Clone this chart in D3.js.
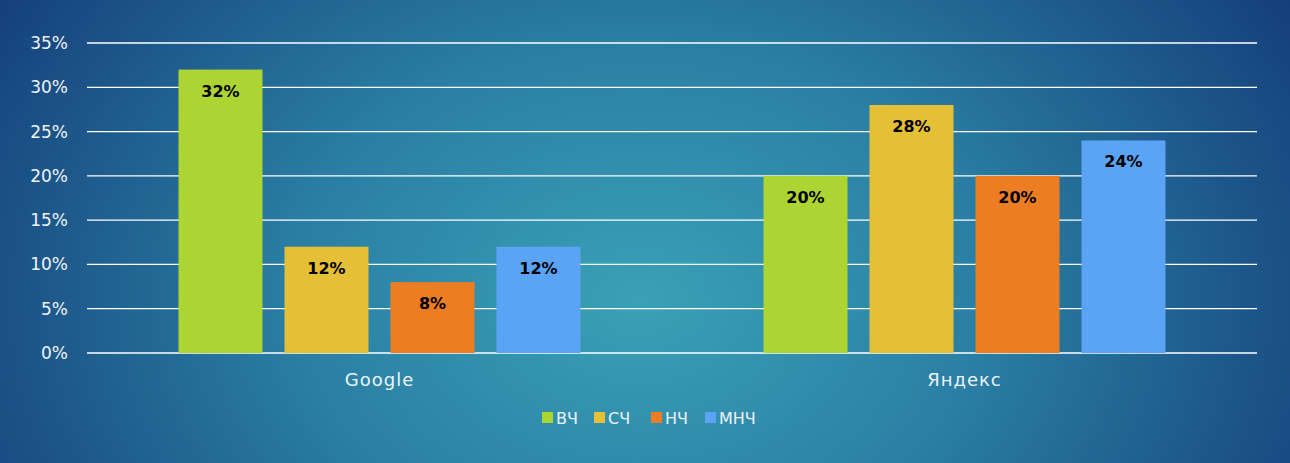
<!DOCTYPE html>
<html><head><meta charset="utf-8">
<script src="https://cdn.jsdelivr.net/npm/d3@7"></script>
<style>html,body{margin:0;padding:0;overflow:hidden;background:#1d4f86}</style>
</head><body>
<svg id="c" width="1290" height="463"></svg>
<script>
const categories = ["Google", "Яндекс"];
const series = ["ВЧ", "СЧ", "НЧ", "МНЧ"];
const valuesGoogle = [32, 12, 8, 12];
const valuesYandex = [20, 28, 20, 24];
const yTicks = [0, 5, 10, 15, 20, 25, 30, 35];
const colors = ["#acd433", "#e5bf35", "#ed7d23", "#5ba3f5"];

const values = [valuesGoogle, valuesYandex];
const W = 1290, H = 463;
const svg = d3.select("#c");
const defs = svg.append("defs");
const g = defs.append("radialGradient").attr("id","bg")
  .attr("gradientUnits","userSpaceOnUse").attr("cx",640).attr("cy",300).attr("r",760)
  .attr("gradientTransform","translate(640,300) scale(1,0.75) translate(-640,-300)");
g.append("stop").attr("offset","0").attr("stop-color","#3aa1b6");
g.append("stop").attr("offset","0.45").attr("stop-color","#2a7fa4");
g.append("stop").attr("offset","1").attr("stop-color","#153f7a");
svg.append("rect").attr("width",W).attr("height",H).attr("fill","url(#bg)");

const font = "'DejaVu Sans', sans-serif";
const x0 = d3.scaleBand().domain(categories).range([87,1257]).padding(0);
const x1 = d3.scaleBand().domain(series).range([91.5,493.5]).paddingInner(0.2075).paddingOuter(0);
const y = d3.scaleLinear().domain([0,35]).range([353,43]);

svg.append("g").selectAll("line").data(yTicks).join("line")
  .attr("x1",87).attr("x2",1257).attr("y1",d=>y(d)).attr("y2",d=>y(d))
  .attr("stroke","#ffffff").attr("stroke-width",1.3);

svg.append("g").selectAll("text").data(yTicks).join("text")
  .attr("x",68).attr("y",d=>y(d)+6).attr("text-anchor","end")
  .attr("font-family",font).attr("font-size",17).attr("fill","#eef3f8")
  .text(d=>d+"%");

categories.forEach((c,ci)=>{
  const grp = svg.append("g").attr("transform",`translate(${x0(c)},0)`);
  grp.selectAll("rect").data(values[ci]).join("rect")
    .attr("x",(d,i)=>x1(series[i])).attr("width",x1.bandwidth())
    .attr("y",d=>y(d)).attr("height",d=>y(0)-y(d))
    .attr("fill",(d,i)=>colors[i]);
  grp.selectAll("text.lbl").data(values[ci]).join("text").attr("class","lbl")
    .attr("x",(d,i)=>x1(series[i])+x1.bandwidth()/2).attr("y",d=>y(d)+27)
    .attr("text-anchor","middle").attr("font-family",font).attr("font-weight","bold")
    .attr("font-size",16).attr("fill","#000").text(d=>d+"%");
  svg.append("text").attr("x",x0(c)+x0.bandwidth()/2).attr("y",386)
    .attr("text-anchor","middle").attr("font-family",font).attr("font-size",18)
    .attr("letter-spacing",1).attr("fill","#eef3f8").text(c);
});

const legX = [542, 594, 651, 705];
const leg = svg.append("g");
series.forEach((s,i)=>{
  leg.append("rect").attr("x",legX[i]).attr("y",412).attr("width",11).attr("height",11).attr("fill",colors[i]);
  leg.append("text").attr("x",legX[i]+14).attr("y",424).attr("font-family",font)
    .attr("font-size",16).attr("fill","#eef3f8").text(s);
});
</script>
</body></html>
